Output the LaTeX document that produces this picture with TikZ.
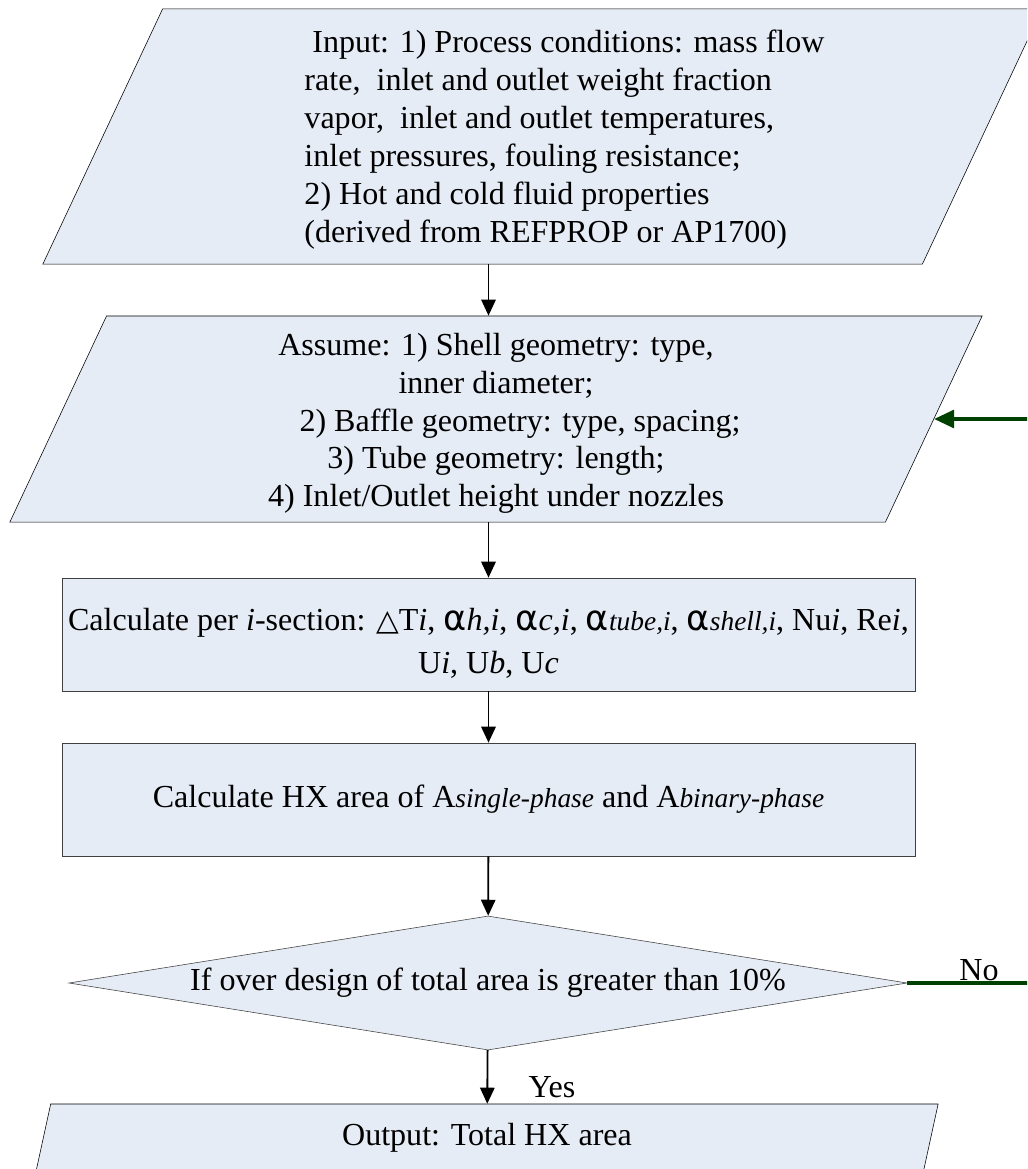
\documentclass[tikz,border=0pt]{standalone}
\usepackage{fontspec}
\setmainfont{Liberation Serif}
\newfontfamily\symfont{DejaVu Sans}
\usetikzlibrary{shapes.geometric, arrows.meta, positioning}

\definecolor{boxfill}{RGB}{230,236,246}
\definecolor{loopgreen}{RGB}{0,64,0}
\newcommand{\alp}{{\symfont\fontsize{25}{25}\selectfont α}}
\newcommand{\tri}{{\symfont\fontsize{21}{21}\selectfont △}}
\newcommand{\sub}[1]{{\fontsize{19.5}{19.5}\selectfont\itshape #1}}

\tikzset{
  para/.style={trapezium, trapezium left angle=63, trapezium right angle=117,
    trapezium stretches body, draw=black, fill=boxfill, inner sep=0pt},
  procbox/.style={rectangle, draw=black!75, fill=boxfill, minimum width=21.325cm,
    minimum height=2.825cm, inner sep=0pt},
  flow/.style={line width=1.3pt, -{Triangle[length=0.4cm, width=0.36cm]}},
  backloop/.style={loopgreen, line width=2.2pt, -{Triangle[length=0.5cm, width=0.45cm]}},
}

\begin{document}
\begin{tikzpicture}[x=0.025cm, y=-0.025cm, font=\fontsize{22.8}{27}\selectfont]
\useasboundingbox (0,0) rectangle (1027,1169);
\clip (0,0) rectangle (1027,1169);

\node[para, minimum width=24.975cm, minimum height=6.375cm] (input) at (542.5,136.5)
  {\hspace*{1.1cm}\begin{tabular}{@{}l@{}}
   \rule{0pt}{24pt}\hspace*{0.2cm}Input: 1) Process conditions: mass flow\\
   rate,\ \ inlet and outlet weight fraction\\
   vapor,\ \ inlet and outlet temperatures,\\
   inlet pressures, fouling resistance;\\
   2) Hot and cold fluid properties\\
   (derived from REFPROP or AP1700)
   \end{tabular}};

\node[para, minimum width=24.3cm, minimum height=5.15cm, align=center] (assume) at (496,419)
  {\rule{0pt}{22pt}Assume: 1) Shell geometry: type,\\
   inner diameter;\\
   \hspace*{1.2cm}2) Baffle geometry: type, spacing;\\
   3) Tube geometry: length;\\
   4) Inlet/Outlet height under nozzles};

\node[procbox, align=center] (calc) at (488.5,634.5)
  {\rule{0pt}{1cm}Calculate per \textit{i}-section: \tri T\textit{i}, \alp\textit{h,i}, \alp\textit{c,i},
   \alp\sub{tube,i}, \alp\sub{shell,i}, Nu\textit{i}, Re\textit{i},\\[4pt]
   U\textit{i}, U\textit{b}, U\textit{c}};

\node[procbox] (hx) at (488.5,799.5)
  {Calculate HX area of A\sub{single-phase} and A\sub{binary-phase}};

\node[diamond, draw=black!75, fill=boxfill, aspect=6.25, inner sep=0pt,
  minimum width=20.95cm, minimum height=3.35cm] (dec) at (488,983)
  {If over design of total area is greater than 10\%};

\node[para, minimum width=22.55cm, minimum height=1.7cm] (output) at (487,1138)
  {Output: Total HX area};

\draw[flow] (input.south -| calc.north) -- (assume.north -| calc.north);
\draw[flow] (assume.south -| calc.north) -- (calc.north);
\draw[flow] (calc) -- (hx);
\draw[flow] (hx) -- (dec);
\draw[flow] (dec) -- (output);
\node (yes) at (552,1087) {Yes};

\draw[backloop] (dec.east) -- ++(140,0) |- (assume.east);
\node (no) at (979,970) {No};
\end{tikzpicture}
\end{document}
